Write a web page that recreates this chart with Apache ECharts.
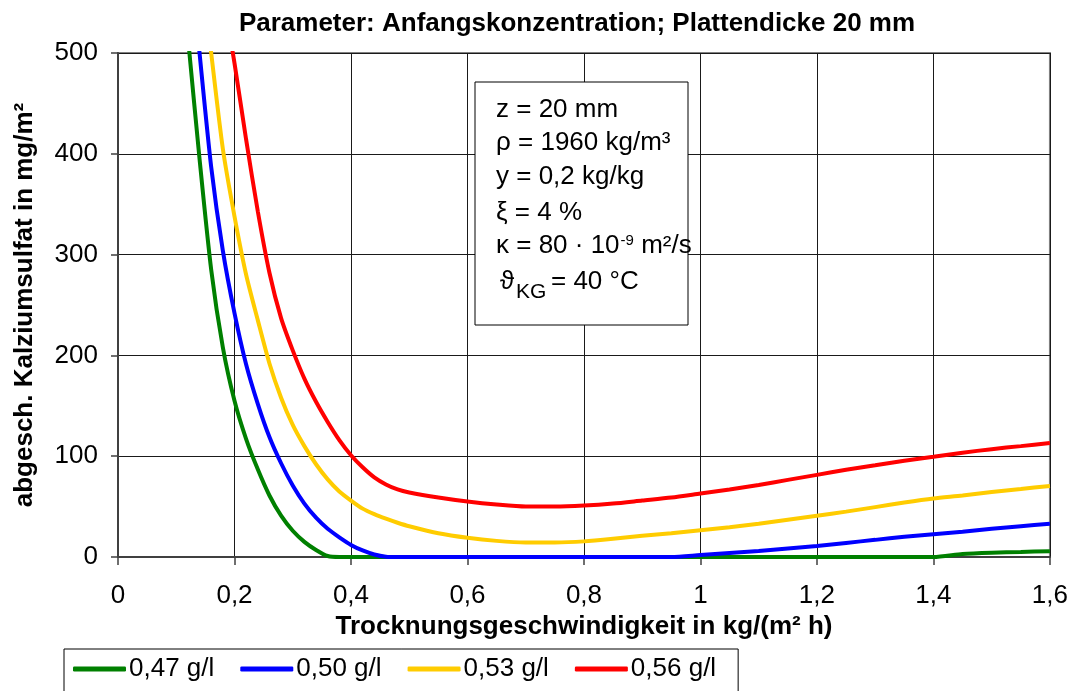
<!DOCTYPE html>
<html>
<head>
<meta charset="utf-8">
<script src="https://cdn.jsdelivr.net/npm/echarts@6/dist/echarts.min.js"></script>
<style>
  html, body { margin: 0; padding: 0; background: #fff; }
  #chart { width: 1071px; height: 691px; }
</style>
</head>
<body>
<div id="chart"></div>
<script>
// Drying rate in kg/(m² h)
const rates = [0.12, 0.14, 0.16, 0.18, 0.20, 0.22, 0.24, 0.26, 0.28, 0.30,
               0.32, 0.34, 0.36, 0.38, 0.40, 0.42, 0.44, 0.46, 0.48, 0.50,
               0.55, 0.60, 0.65, 0.70, 0.75, 0.80, 0.85, 0.90, 0.95, 1.00,
               1.05, 1.10, 1.15, 1.20, 1.25, 1.30, 1.35, 1.40, 1.45, 1.50,
               1.55, 1.60];

// Deposited calcium sulphate in mg/m² for each initial concentration
const conc047 = [516, 395, 285, 208, 155, 117, 87, 61, 41, 26,
                 15, 7, 1, 0, 0, 0, 0, 0, 0, 0,
                 0, 0, 0, 0, 0, 0, 0, 0, 0, 0,
                 0, 0, 0, 0, 0, 0, 0, 0, 3, 4.3,
                 5, 5.8];
const conc050 = [620, 500, 387, 304, 242, 191, 152, 119, 93, 71,
                 53, 39, 28, 19.5, 12, 6.5, 2.5, 0.3, 0, 0,
                 0, 0, 0, 0, 0, 0, 0, 0, 0, 2,
                 4, 6, 8.5, 11, 14, 17, 20, 22.5, 25, 28,
                 30.5, 33];
const conc053 = [null, 600, 500, 405, 338, 280, 235, 192, 158, 131,
                 110, 92, 77, 65, 56, 48, 42.5, 38, 34, 30.5,
                 23.5, 19, 16, 14.5, 14.5, 15.5, 18, 21, 23.5, 26.5,
                 29.5, 33, 37, 41, 45, 49.5, 54, 58, 61, 64.5,
                 67.5, 70.5];
const conc056 = [null, null, null, 560, 490, 414, 343, 282, 237, 205,
                 177, 154, 134, 116, 101, 89, 79, 72, 67, 64,
                 59, 55, 52, 50, 50, 51, 53, 56, 59, 63,
                 67, 71.5, 76.5, 81.5, 86.5, 91, 95.5, 99.5, 103.5, 107,
                 110, 113];

const seriesNames = ['0,47 g/l', '0,50 g/l', '0,53 g/l', '0,56 g/l'];
const seriesColors = ['#008000', '#0000ff', '#ffcc00', '#ff0000'];
const seriesValues = [conc047, conc050, conc053, conc056];

const xTicks = [0, 0.2, 0.4, 0.6, 0.8, 1.0, 1.2, 1.4, 1.6];
const yTicks = [0, 100, 200, 300, 400, 500];

const chartTitle = 'Parameter: Anfangskonzentration; Plattendicke 20 mm';
const xAxisTitle = 'Trocknungsgeschwindigkeit in kg/(m² h)';
const yAxisTitle = 'abgesch. Kalziumsulfat in mg/m²';

const FONT = '"Liberation Sans", Arial, sans-serif';

function pairs(values) {
  const out = [];
  rates.forEach((x, i) => {
    if (values[i] !== null) out.push([x, values[i]]);
  });
  return out;
}

// text measurement for the parameter box (superscript placement)
const measureCtx = document.createElement('canvas').getContext('2d');
function textWidth(str, size) {
  measureCtx.font = size + 'px ' + FONT;
  return measureCtx.measureText(str).width;
}

const boxX = 475, boxY = 82, boxW = 213, boxH = 243;
const txtX = 496;
const kappaMain = 'κ = 80 · 10';
const kappaSupX = txtX + textWidth(kappaMain, 26) + 1;
const kappaSup = '-9';
const kappaRestX = kappaSupX + textWidth(kappaSup, 15);

function boxText(str, x, bottom, size) {
  return {
    type: 'text',
    x: x,
    y: bottom,
    style: {
      text: str,
      fill: '#000',
      fontSize: size,
      fontFamily: FONT,
      textVerticalAlign: 'bottom',
      verticalAlign: 'bottom'
    },
    z: 100
  };
}

const chart = echarts.init(document.getElementById('chart'), null, { renderer: 'canvas' });

const option = {
  animation: false,
  backgroundColor: '#ffffff',
  textStyle: { fontFamily: FONT },
  title: {
    text: chartTitle,
    left: 572,
    top: 6,
    textAlign: 'center',
    textStyle: { fontSize: 26, fontWeight: 'bold', color: '#000', fontFamily: FONT }
  },
  grid: {
    left: 118,
    right: 21,
    top: 53,
    bottom: 134,
    show: true,
    borderColor: '#808080',
    borderWidth: 2,
    backgroundColor: 'transparent'
  },
  xAxis: {
    type: 'value',
    min: xTicks[0],
    max: xTicks[xTicks.length - 1],
    interval: 0.2,
    name: xAxisTitle,
    nameLocation: 'middle',
    nameGap: 54,
    nameTextStyle: { fontSize: 26, fontWeight: 'bold', color: '#000', fontFamily: FONT },
    axisLine: { show: true, onZero: false, lineStyle: { color: '#404040', width: 2 } },
    axisTick: { show: true, length: 8, lineStyle: { color: '#404040', width: 1.5 } },
    axisLabel: {
      margin: 26,
      fontSize: 26,
      color: '#000',
      fontFamily: FONT,
      formatter: v => String(Math.round(v * 10) / 10).replace('.', ',')
    },
    splitLine: { show: true, lineStyle: { color: '#1a1a1a', width: 1 } }
  },
  yAxis: {
    type: 'value',
    min: yTicks[0],
    max: yTicks[yTicks.length - 1],
    interval: 100,
    name: yAxisTitle,
    nameLocation: 'middle',
    nameGap: 80,
    nameTextStyle: { fontSize: 26, fontWeight: 'bold', color: '#000', fontFamily: FONT },
    axisLine: { show: true, lineStyle: { color: '#404040', width: 2 } },
    axisTick: { show: true, length: 7, lineStyle: { color: '#404040', width: 1.5 } },
    axisLabel: { margin: 20, fontSize: 26, color: '#000', fontFamily: FONT },
    splitLine: { show: true, lineStyle: { color: '#1a1a1a', width: 1 } }
  },
  legend: {
    left: 64,
    top: 649,
    orient: 'horizontal',
    icon: 'roundRect',
    itemWidth: 53,
    itemHeight: 5,
    itemGap: 26,
    padding: [7, 22, 10, 9],
    borderColor: '#000',
    borderWidth: 1,
    backgroundColor: '#fff',
    textStyle: { fontSize: 26, color: '#000', fontFamily: FONT, padding: [0, 0, 0, -2] },
    data: seriesNames
  },
  series: seriesNames.map((name, i) => ({
    name: name,
    type: 'line',
    data: pairs(seriesValues[i]),
    showSymbol: false,
    symbol: 'none',
    smooth: 0.25,
    clip: true,
    lineStyle: { color: seriesColors[i], width: 4 },
    itemStyle: { color: seriesColors[i] },
    z: 3 + i
  })),
  graphic: [
    {
      type: 'rect',
      shape: { x: boxX, y: boxY, width: boxW, height: boxH },
      style: { fill: '#fff', stroke: '#000', lineWidth: 1 },
      z: 90
    },
    boxText('z = 20 mm', txtX, 123, 26),
    boxText('ρ = 1960 kg/m³', txtX, 156, 26),
    boxText('y = 0,2 kg/kg', txtX, 190, 26),
    boxText('ξ = 4 %', txtX, 226, 26),
    boxText(kappaMain, txtX, 259, 26),
    boxText(kappaSup, kappaSupX, 248, 15),
    boxText(' m²/s', kappaRestX, 259, 26),
    boxText('ϑ', 500, 295, 26),
    boxText('KG', 516, 303, 21),
    boxText('= 40 °C', 551, 295, 26)
  ]
};

chart.setOption(option);
</script>
</body>
</html>
